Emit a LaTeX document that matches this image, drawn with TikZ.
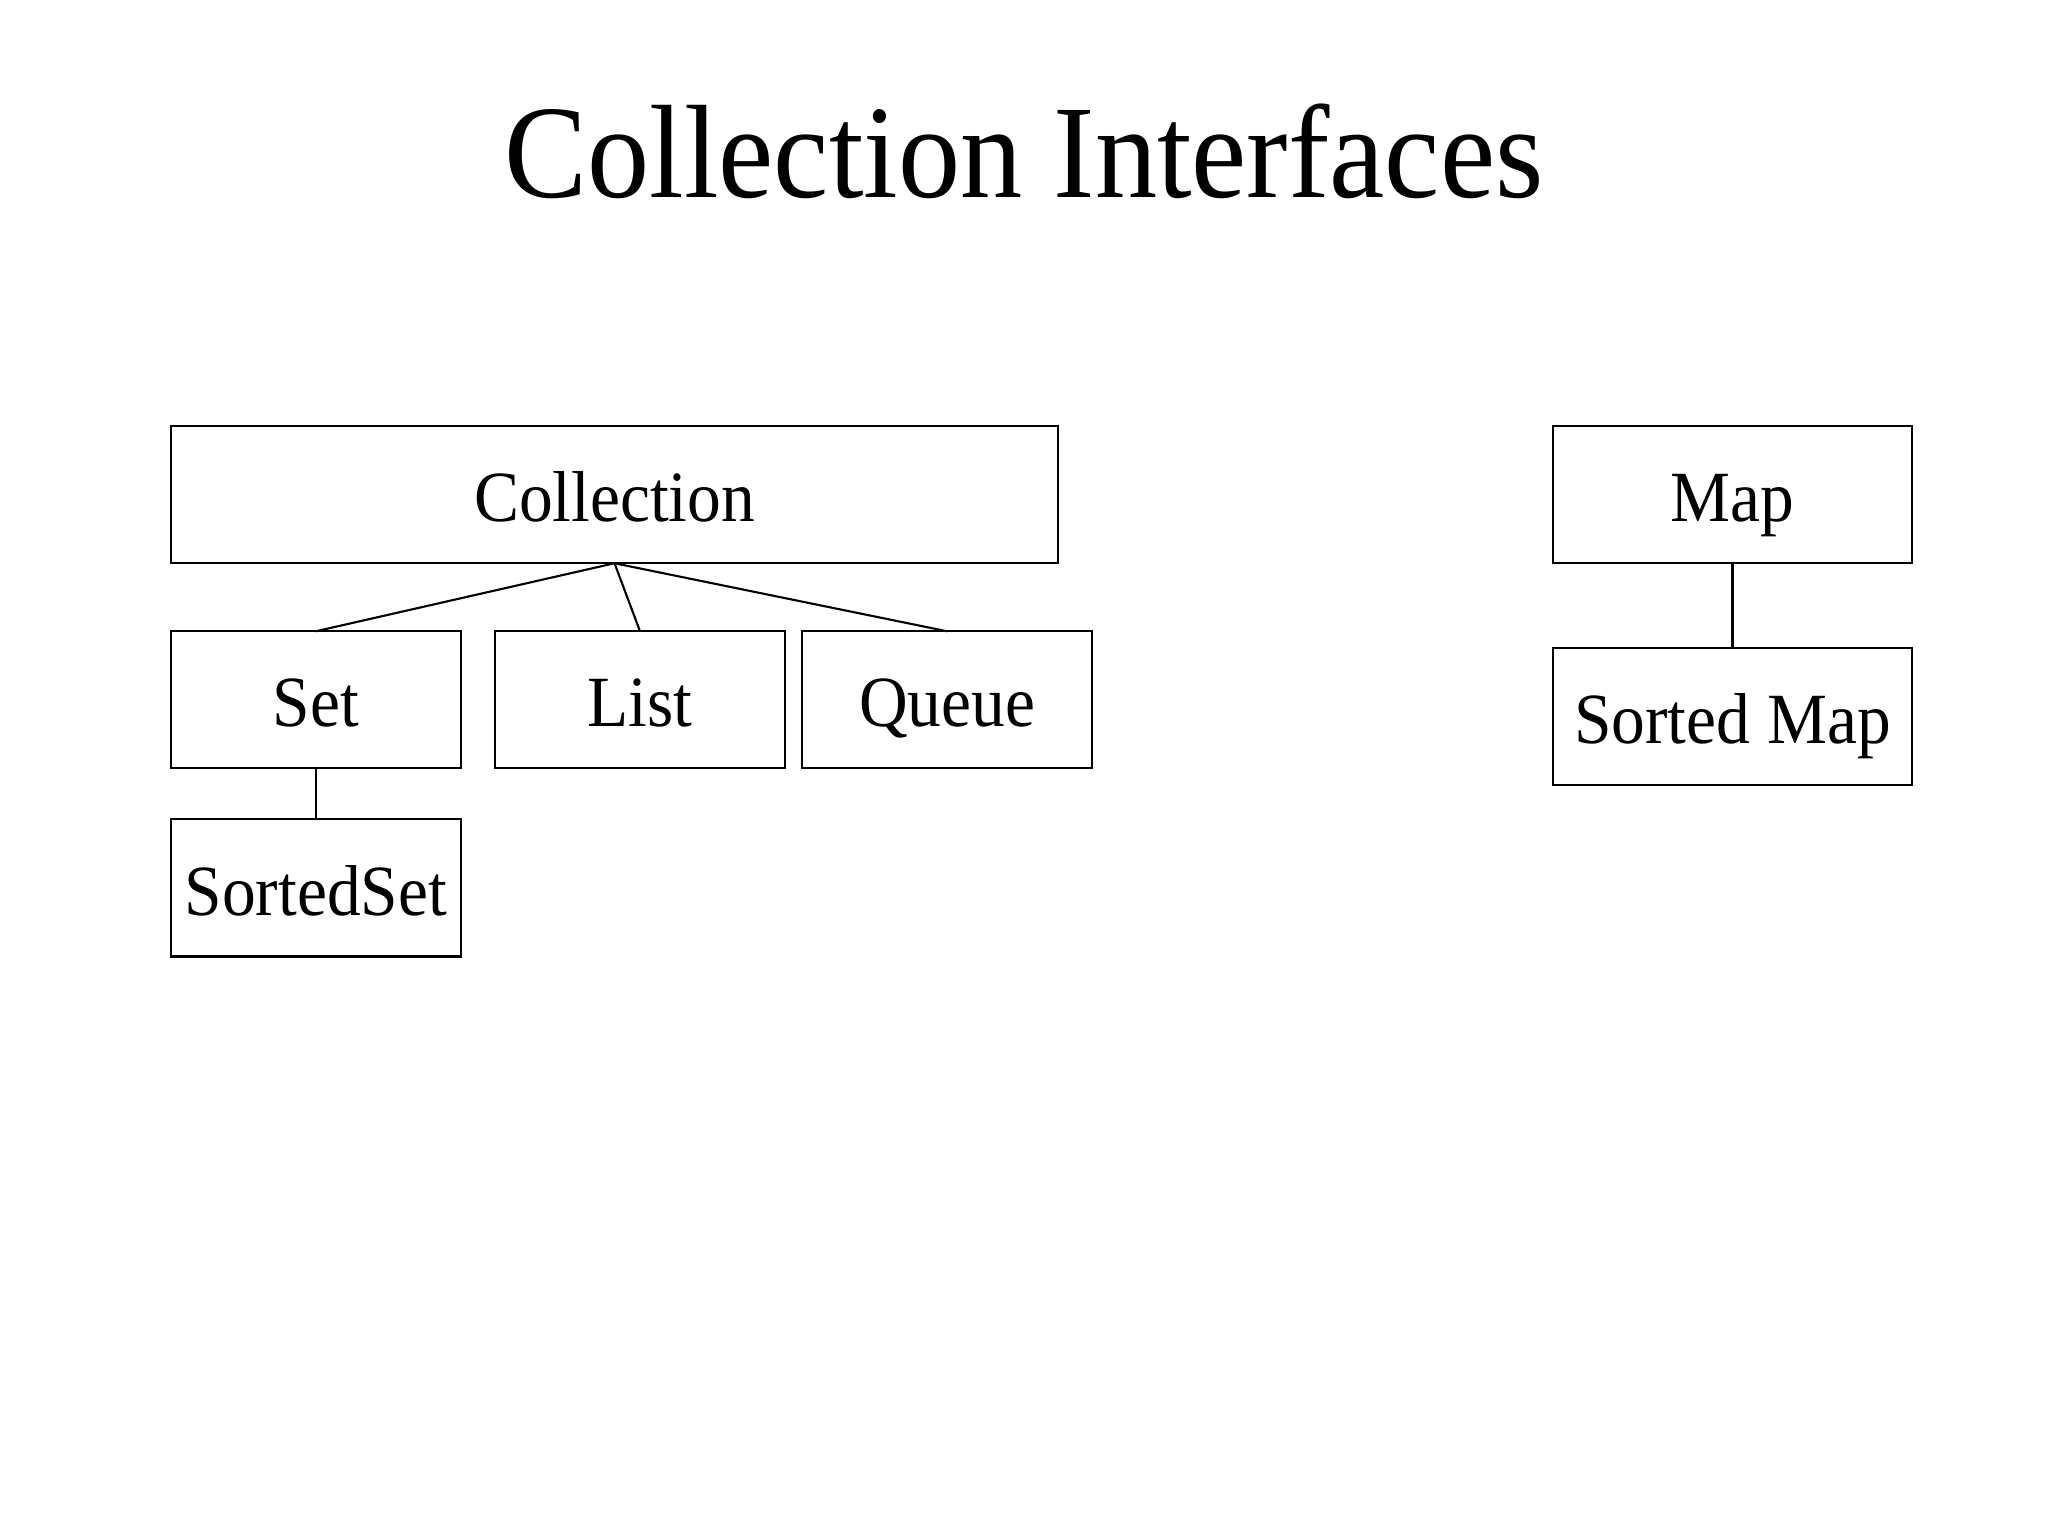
\documentclass[tikz,border=0pt]{standalone}
\usepackage{fontspec}
\setmainfont{Liberation Serif}[FakeStretch=0.935]
\usepackage{tikz}
\usetikzlibrary{positioning}

\begin{document}
\begin{tikzpicture}[x=0.01cm,y=-0.01cm,
    box/.style={draw,line width=0.6pt,outer sep=0pt,inner sep=0pt,align=center,
      font=\fontsize{20.5pt}{24pt}\selectfont,text height=15.4pt,text depth=0pt,
      minimum width=2.9cm,minimum height=1.37cm}]
    \useasboundingbox (0,0) rectangle (2048,1536);
    \node[anchor=base,font=\fontsize{37.8pt}{45pt}\selectfont] (title) at (1024,197) {Collection Interfaces};
    % collection side
    \node[box,minimum width=8.87cm] (coll) at (614.5,494.7) {Collection};
    \node[box,below right=0.68cm and 0cm of coll.south west] (set) {Set};
    \node[box,right=0.34cm of set] (list) {List};
    \node[box,right=0.17cm of list] (queue) {Queue};
    \node[box,below=0.51cm of set] (sset) {SortedSet};
    % map side
    \node[box,minimum width=3.59cm] (map) at (1732.5,494.7) {Map};
    \node[box,minimum width=3.59cm,below=0.85cm of map] (smap) {Sorted Map};
    \draw[line width=0.6pt] (coll.south) -- (set.north);
    \draw[line width=0.6pt] (coll.south) -- (list.north);
    \draw[line width=0.6pt] (coll.south) -- (queue.north);
    \draw[line width=0.6pt] (set) -- (sset);
    \draw[line width=0.6pt] (map) -- (smap);
\end{tikzpicture}
\end{document}
